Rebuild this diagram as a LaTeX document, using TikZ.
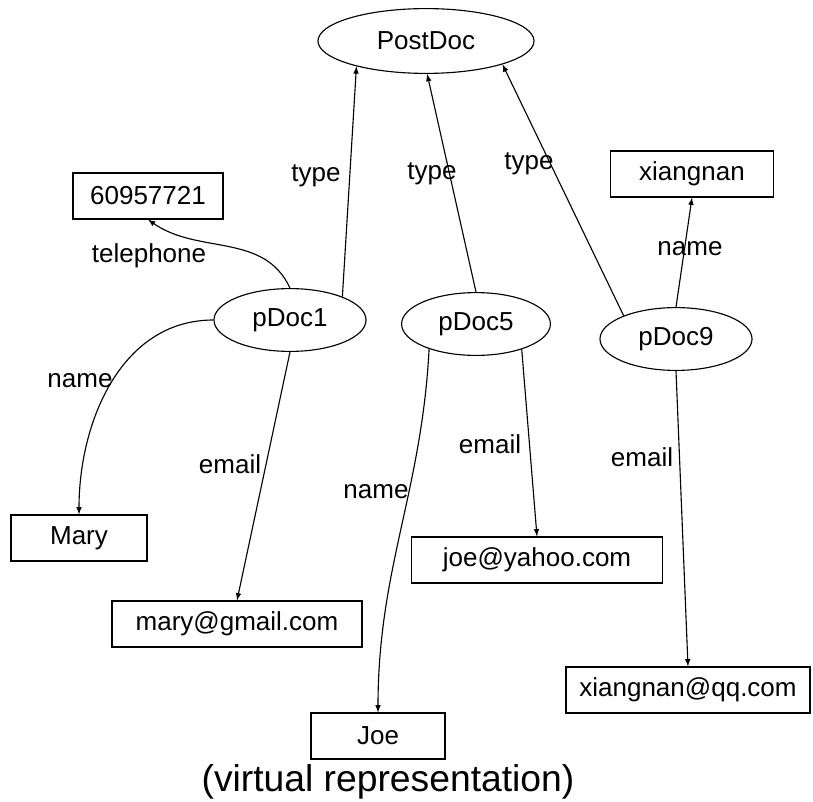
\documentclass[tikz,border=0pt]{standalone}
\usepackage{fontspec}
\setmainfont{Liberation Sans}
\usetikzlibrary{shapes.geometric}

\tikzset{
  cls/.style={draw, ellipse, inner sep=0pt, minimum width=3.8cm, minimum height=1.57cm},
  lit/.style={draw, rectangle, inner sep=0pt, minimum height=1.15cm},
}

\begin{document}
\begin{tikzpicture}[>=latex, x=0.025cm, y=-0.025cm, line width=0.8pt,
    font=\fontsize{18.5}{21}\selectfont]
  \useasboundingbox (0,0) rectangle (813,801);
  % classes and resources
  \node [cls, minimum width=5.4cm, minimum height=1.62cm] (post) at (426,41) {PostDoc};
  \node [cls] (p1) at (290,320) {pDoc1};
  \node [cls, minimum width=3.72cm] (p5) at (476,324) {pDoc5};
  \node [cls] (p9) at (676,339) {pDoc9};
  % literals
  \node [lit, minimum width=3.75cm] (tel) at (148,196) {60957721};
  \node [lit, minimum width=4.08cm] (xn) at (692,174) {xiangnan};
  \node [lit, minimum width=3.4cm] (mary) at (79,538) {Mary};
  \node [lit, minimum width=6.25cm] (gm) at (237,624) {mary@gmail.com};
  \node [lit, minimum width=3.35cm] (joe) at (378,736) {Joe};
  \node [lit, minimum width=6.28cm] (yh) at (537,560) {joe@yahoo.com};
  \node [lit, minimum width=6.1cm] (qq) at (688,690) {xiangnan@qq.com};
  % edges
  \draw [->] (p1.24) -- (post.200);
  \draw [->] (p5.north) -- (post.272);
  \draw [->] (p9.156) -- (post.343);
  \draw [->] (p1.north) to [out=115, in=-35] (tel.south);
  \draw [->] (p1.west) to [out=180, in=90] (mary.north);
  \draw [->] (p1.south) -- (gm.north);
  \draw [->] (p5.208) to [out=-93, in=90] (joe.north);
  \draw [->] (p5.331) -- (yh.north);
  \draw [->] (p9.north) -- (xn.south);
  \draw [->] (p9.south) -- (qq.north);
  % edge labels
  \node (t1) at (316,176) {type};
  \node (t5) at (432,174) {type};
  \node (t9) at (529,164) {type};
  \node (ltel) at (149,256) {telephone};
  \node (lmary) at (80,381) {name};
  \node (lgm) at (230,464) {email};
  \node (ljoe) at (376,492) {name};
  \node (lyh) at (490,444) {email};
  \node (lqq) at (642,457) {email};
  \node (lxn) at (690,249) {name};
  \node (cap) at (388,782) {\fontsize{26.5}{29}\selectfont (virtual representation)};
\end{tikzpicture}
\end{document}
